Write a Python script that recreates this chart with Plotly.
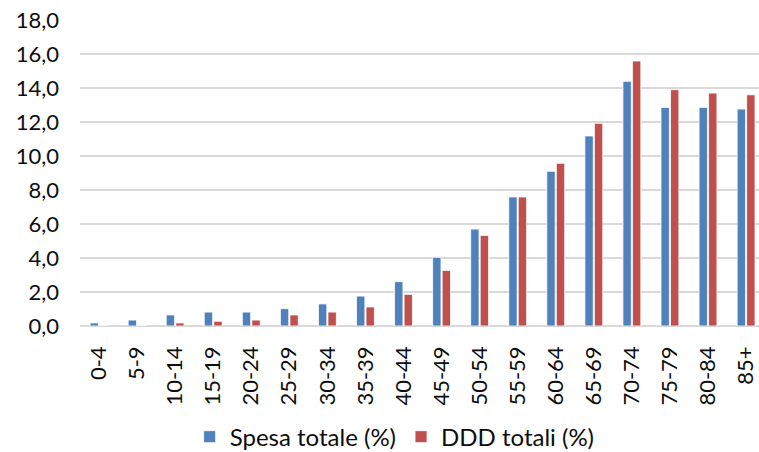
import plotly.graph_objects as go

# Age classes and the share of total expenditure / DDD for each class
fasce_eta = ["0-4", "5-9", "10-14", "15-19", "20-24", "25-29", "30-34", "35-39",
             "40-44", "45-49", "50-54", "55-59", "60-64", "65-69", "70-74",
             "75-79", "80-84", "85+"]
spesa_totale = [0.18, 0.35, 0.65, 0.82, 0.82, 1.02, 1.30, 1.76, 2.61, 4.04,
                5.70, 7.59, 9.10, 11.18, 14.39, 12.86, 12.86, 12.76]
ddd_totali = [0.03, 0.03, 0.18, 0.28, 0.35, 0.65, 0.82, 1.12, 1.86, 3.27,
              5.33, 7.59, 9.57, 11.92, 15.59, 13.90, 13.70, 13.60]
y_ticks = [0, 2, 4, 6, 8, 10, 12, 14, 16, 18]

FONT = "Lato, 'Open Sans', sans-serif"
TEXT = "#0d0d0d"
BLUE = "#4f81bd"
RED = "#c0504d"

fig = go.Figure()
fig.add_trace(go.Bar(
    x=fasce_eta, y=spesa_totale, name="Spesa totale (%)",
    marker=dict(color=BLUE, line=dict(color="white", width=0.8)),
))
fig.add_trace(go.Bar(
    x=fasce_eta, y=ddd_totali, name="DDD totali (%)",
    marker=dict(color=RED, line=dict(color="white", width=0.8)),
))

fig.update_layout(
    width=759, height=452,
    margin=dict(l=80, r=0, t=20, b=126),
    paper_bgcolor="white", plot_bgcolor="white",
    barmode="group", bargap=0.5, bargroupgap=0.12,
    separators=",.",
    font=dict(family=FONT, color=TEXT),
    showlegend=True,
    legend=dict(
        orientation="h", xref="container", x=0.52, xanchor="center",
        yref="container", y=0.033, yanchor="middle",
        font=dict(size=24, family=FONT, color=TEXT),
        itemwidth=30, tracegroupgap=0,
    ),
    xaxis=dict(
        type="category", range=[-0.5, 17.34], automargin=False,
        tickangle=-90, tickfont=dict(size=22, family=FONT, color=TEXT),
        showgrid=False, showline=False, zeroline=False, ticks="",
        ticklabelstandoff=15,
    ),
    yaxis=dict(
        range=[0, 18], tickvals=y_ticks, tickformat=".1f", automargin=False,
        tickfont=dict(size=22, family=FONT, color=TEXT),
        showgrid=True, gridcolor="#d9d9d9", gridwidth=1.5,
        zeroline=True, zerolinecolor="#d9d9d9", zerolinewidth=1.5,
        showline=False, ticks="", ticklabelstandoff=20,
    ),
)

fig.write_html("out.html")
